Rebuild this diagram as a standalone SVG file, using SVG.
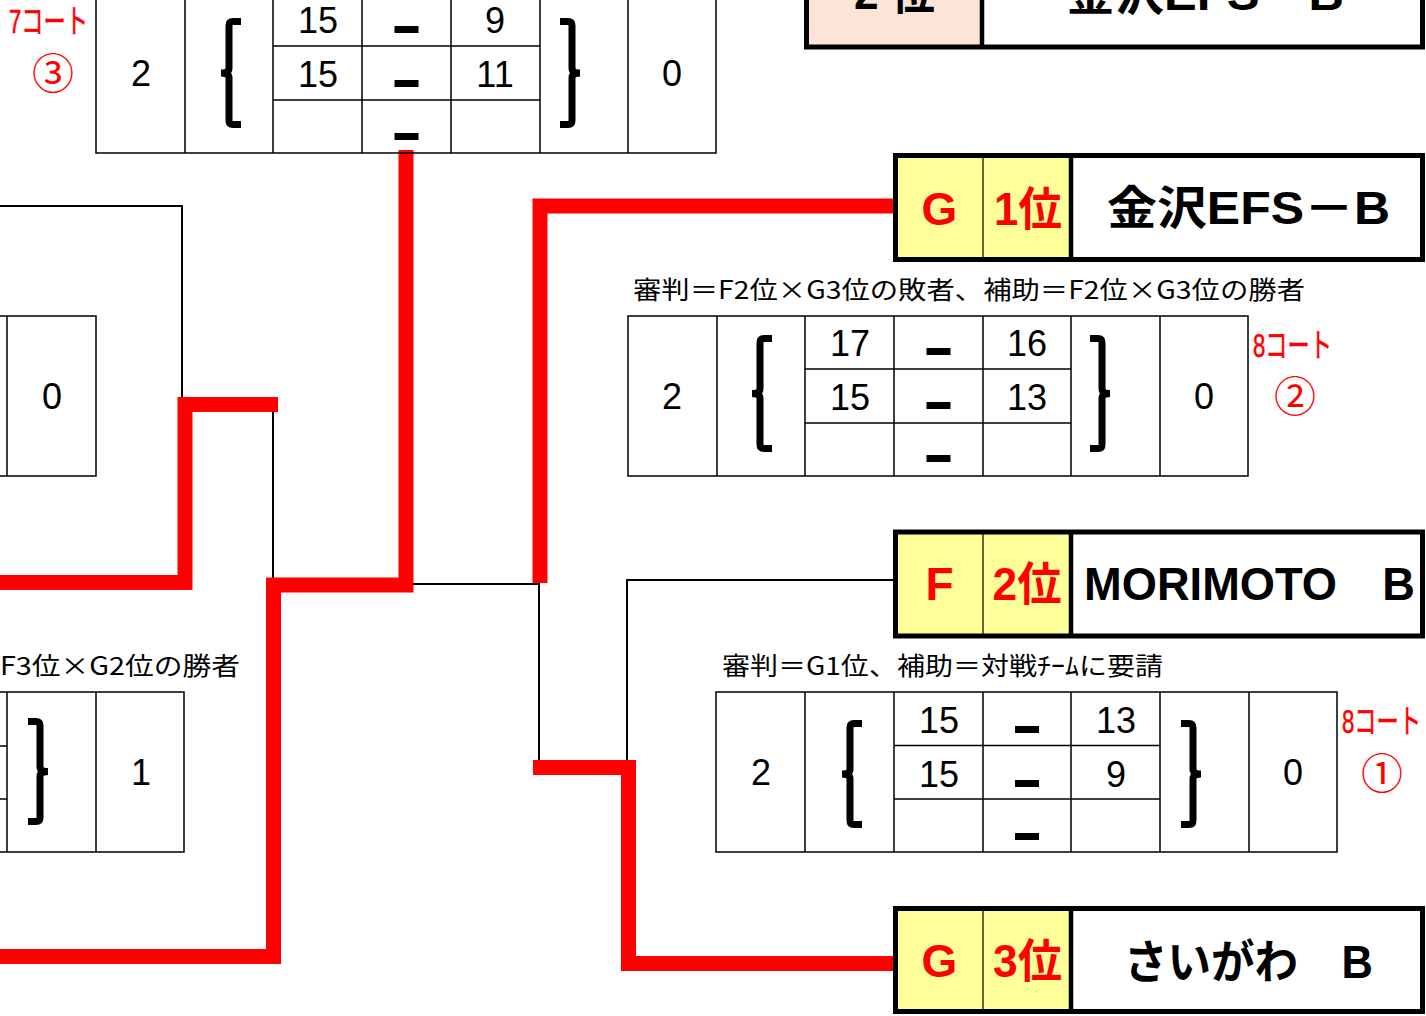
<svg xmlns="http://www.w3.org/2000/svg" width="1426" height="1016" viewBox="0 0 1426 1016">
<style>
.grid{stroke:#000;stroke-width:1.5;fill:none}
.num{font-family:"Liberation Sans","Noto Sans CJK JP",sans-serif;font-size:36px;text-anchor:middle;fill:#000}
.dash{fill:#000}
.brace{fill:none;stroke:#000;stroke-width:7;stroke-linejoin:miter}
.note{font-family:"Noto Sans CJK JP",sans-serif;font-size:25px;fill:#000}
.court{font-family:"Liberation Sans","Noto Sans CJK JP",sans-serif;font-size:33px;fill:#ff0000;stroke:#ff0000;stroke-width:0.6}
.circ{font-family:"Noto Sans CJK JP",sans-serif;font-size:42px;fill:#ff0000;text-anchor:middle}
.team{font-family:"Liberation Sans","Noto Sans CJK JP",sans-serif;font-weight:bold;font-size:46px;text-anchor:middle}
.rank{fill:#ff0000}
.name{fill:#000}
.box{fill:none;stroke:#000;stroke-width:5}
.thin{stroke:#000;stroke-width:1.2}
.thick{stroke:#000;stroke-width:4.5}
.yellow{fill:#ffff99}
.peach{fill:#fce4d6}
.redline{fill:none;stroke:#ff0000;stroke-width:15;stroke-linejoin:miter;stroke-linecap:butt}
.blackline{fill:none;stroke:#000;stroke-width:2}
</style>
<rect width="1426" height="1016" fill="#fff"/>

<g id="connectors">
  <path class="blackline" d="M0,206 H182 V398"/>
  <path class="blackline" d="M273,411 V579"/>
  <path class="blackline" d="M413,584 H539 V761"/>
  <path class="blackline" d="M627,761 V580 H893"/>
  <path class="redline" d="M0,582.5 H185 V404.5 H278"/>
  <path class="redline" d="M0,956.5 H273.5 V585 H406 V150"/>
  <path class="redline" d="M540,583 V206 H893"/>
  <path class="redline" d="M533,767.5 H628.5 V963.5 H893"/>
</g>

<g id="match-top">
  <rect class="grid" x="96" y="-7" width="620" height="160"/>
  <path class="grid" d="M185,-7V153M273,-7V153M362,-7V153M451,-7V153M540,-7V153M628,-7V153M273,46H540M273,100H540"/>
  <text class="num" x="141" y="86">2</text>
  <text class="num" x="318" y="33">15</text>
  <text class="num" x="495" y="33">9</text>
  <text class="num" x="318" y="87">15</text>
  <text class="num" x="495" y="87">11</text>
  <text class="num" x="672" y="86">0</text>
  <rect class="dash" x="394.5" y="26" width="24" height="7"/>
  <rect class="dash" x="394.5" y="80" width="24" height="7"/>
  <rect class="dash" x="394.5" y="133" width="24" height="7"/>
  <path class="brace" d="M241,21.5 H233 Q229,21.5 229,25.5 V68 Q229,73 221,73 Q229,73 229,78 V120.5 Q229,124.5 233,124.5 H241"/>
  <path class="brace" d="M560,21.5 H568 Q572,21.5 572,25.5 V68 Q572,73 580,73 Q572,73 572,78 V120.5 Q572,124.5 568,124.5 H560"/>
  <text class="court" x="9" y="33" textLength="79" lengthAdjust="spacingAndGlyphs">7コート</text>
  <text class="circ" x="53" y="89">③</text>
</g>

<g id="match-left-mid">
  <path class="grid" d="M0,316H96V476H0M7,316V476"/>
  <text class="num" x="52" y="409">0</text>
</g>

<g id="match-left-bottom">
  <path class="grid" d="M0,692H184V852H0M7,692V852M96,692V852M0,746H7M0,799H7"/>
  <path class="brace" d="M28,721.5 H36 Q40,721.5 40,725.5 V766.5 Q40,771.5 48,771.5 Q40,771.5 40,776.5 V817.5 Q40,821.5 36,821.5 H28"/>
  <text class="num" x="141" y="785">1</text>
  <text class="note" x="0" y="675" textLength="240" lengthAdjust="spacingAndGlyphs">F3位×G2位の勝者</text>
</g>

<g id="match-semi">
  <text class="note" x="633" y="299" textLength="672" lengthAdjust="spacingAndGlyphs">審判＝F2位×G3位の敗者、補助＝F2位×G3位の勝者</text>
  <rect class="grid" x="628" y="316" width="620" height="160"/>
  <path class="grid" d="M717,316V476M805,316V476M894,316V476M983,316V476M1071,316V476M1160,316V476M805,369H1071M805,423H1071"/>
  <text class="num" x="672" y="409">2</text>
  <text class="num" x="850" y="356">17</text>
  <text class="num" x="1027" y="356">16</text>
  <text class="num" x="850" y="410">15</text>
  <text class="num" x="1027" y="410">13</text>
  <text class="num" x="1204" y="409">0</text>
  <rect class="dash" x="926.5" y="348" width="24" height="7"/>
  <rect class="dash" x="926.5" y="402" width="24" height="7"/>
  <rect class="dash" x="926.5" y="455" width="24" height="7"/>
  <path class="brace" d="M772,338.5 H764 Q760,338.5 760,342.5 V388.5 Q760,393.5 752,393.5 Q760,393.5 760,398.5 V444.5 Q760,448.5 764,448.5 H772"/>
  <path class="brace" d="M1090,338.5 H1098 Q1102,338.5 1102,342.5 V388.5 Q1102,393.5 1110,393.5 Q1102,393.5 1102,398.5 V444.5 Q1102,448.5 1098,448.5 H1090"/>
  <text class="court" x="1253" y="357" textLength="79" lengthAdjust="spacingAndGlyphs">8コート</text>
  <text class="circ" x="1295" y="412">②</text>
</g>

<g id="match-f2-g3">
  <text class="note" x="722" y="675" textLength="441" lengthAdjust="spacingAndGlyphs">審判＝G1位、補助＝対戦ﾁｰﾑに要請</text>
  <rect class="grid" x="716" y="692" width="621" height="160"/>
  <path class="grid" d="M805,692V852M894,692V852M983,692V852M1071,692V852M1160,692V852M1249,692V852M894,745.5H1160M894,799H1160"/>
  <text class="num" x="761" y="785">2</text>
  <text class="num" x="939" y="733">15</text>
  <text class="num" x="1116" y="733">13</text>
  <text class="num" x="939" y="787">15</text>
  <text class="num" x="1116" y="787">9</text>
  <text class="num" x="1293" y="785">0</text>
  <rect class="dash" x="1015" y="726" width="24" height="7"/>
  <rect class="dash" x="1015" y="780" width="24" height="7"/>
  <rect class="dash" x="1015" y="833" width="24" height="7"/>
  <path class="brace" d="M862,723.5 H854 Q850,723.5 850,727.5 V769 Q850,774 842,774 Q850,774 850,779 V820.5 Q850,824.5 854,824.5 H862"/>
  <path class="brace" d="M1181,723.5 H1189 Q1193,723.5 1193,727.5 V769 Q1193,774 1201,774 Q1193,774 1193,779 V820.5 Q1193,824.5 1189,824.5 H1181"/>
  <text class="court" x="1342" y="733" textLength="79" lengthAdjust="spacingAndGlyphs">8コート</text>
  <text class="circ" x="1382" y="789">①</text>
</g>

<g id="team-top">
  <rect x="806.5" y="-57" width="616" height="104" fill="#fff"/>
  <rect class="peach" x="806.5" y="-57" width="175.5" height="104"/>
  <line class="thick" x1="982" y1="-57" x2="982" y2="47"/>
  <rect class="box" x="806.5" y="-57" width="616" height="104"/>
  <text class="team name" x="894.5" y="9" textLength="81" lengthAdjust="spacingAndGlyphs">2 位</text>
  <text class="team name" x="1205" y="10" textLength="278" lengthAdjust="spacingAndGlyphs">金沢EFS－B</text>
</g>

<g id="team-g1">
  <rect x="895.5" y="155.5" width="527" height="104" fill="#fff"/>
  <rect class="yellow" x="895.5" y="155.5" width="175.5" height="104"/>
  <line class="thin" x1="983" y1="155.5" x2="983" y2="259.5"/>
  <line class="thick" x1="1071" y1="155.5" x2="1071" y2="259.5"/>
  <rect class="box" x="895.5" y="155.5" width="527" height="104"/>
  <text class="team rank" x="939.5" y="225">G</text>
  <text class="team rank" x="1028" y="225" textLength="68" lengthAdjust="spacingAndGlyphs">1位</text>
  <text class="team name" x="1248.5" y="224" textLength="283" lengthAdjust="spacingAndGlyphs">金沢EFS－B</text>
</g>

<g id="team-f2">
  <rect x="895.5" y="532" width="527" height="104" fill="#fff"/>
  <rect class="yellow" x="895.5" y="532" width="175.5" height="104"/>
  <line class="thin" x1="983" y1="532" x2="983" y2="636"/>
  <line class="thick" x1="1071" y1="532" x2="1071" y2="636"/>
  <rect class="box" x="895.5" y="532" width="527" height="104"/>
  <text class="team rank" x="939.5" y="600">F</text>
  <text class="team rank" x="1027" y="600" textLength="69" lengthAdjust="spacingAndGlyphs">2位</text>
  <text class="team name" x="1249.5" y="600" textLength="331" lengthAdjust="spacingAndGlyphs">MORIMOTO　B</text>
</g>

<g id="team-g3">
  <rect x="895.5" y="908.5" width="527" height="103" fill="#fff"/>
  <rect class="yellow" x="895.5" y="908.5" width="175.5" height="103"/>
  <line class="thin" x1="983" y1="908.5" x2="983" y2="1011.5"/>
  <line class="thick" x1="1071" y1="908.5" x2="1071" y2="1011.5"/>
  <rect class="box" x="895.5" y="908.5" width="527" height="103"/>
  <text class="team rank" x="939.5" y="977">G</text>
  <text class="team rank" x="1027.5" y="977" textLength="69" lengthAdjust="spacingAndGlyphs">3位</text>
  <text class="team name" x="1248.5" y="978" textLength="249" lengthAdjust="spacingAndGlyphs">さいがわ　B</text>
</g>
</svg>
